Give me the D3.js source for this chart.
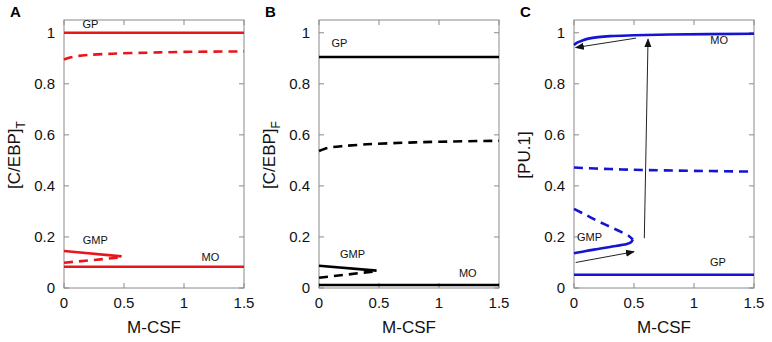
<!DOCTYPE html>
<html>
<head>
<meta charset="utf-8">
<script src="https://cdn.jsdelivr.net/npm/d3@7"></script>
<style>
  body { margin: 0; background: #fff; }
  svg { font-family: Arial, "Liberation Sans", sans-serif; }
  .tick_label { font-size: 15px; fill: #111; }
  .axis_title { font-size: 17px; fill: #111; }
  .branch_label { font-size: 11px; fill: #111; }
  .panel_letter { font-size: 15px; font-weight: bold; fill: #000; }
</style>
</head>
<body>
<svg id="main_chart" width="772" height="342"></svg>
<script>
// TICKS
const xTicks = [0, 0.5, 1, 1.5];
const yTicks = [0, 0.2, 0.4, 0.6, 0.8, 1];
const yTickLabels = ['0', '0.2', '0.4', '0.6', '0.8', '1'];
const xTickLabels = ['0', '0.5', '1', '1.5'];

// PANEL A: [C/EBP]T
const aGP = [[0, 1], [1.5, 1]];
const aUnstableHigh = [[0, 0.895], [0.05, 0.903], [0.1, 0.908], [0.2, 0.913], [0.4, 0.918], [0.7, 0.922], [1, 0.925], [1.5, 0.927]];
const aGMP = [[0, 0.145], [0.48, 0.124]];
const aUnstableLow = [[0, 0.099], [0.48, 0.12]];
const aMO = [[0, 0.083], [1.5, 0.083]];
const aLabels = [['GP', 0.22, 1.02], ['GMP', 0.26, 0.172], ['MO', 1.22, 0.105]];

// PANEL B: [C/EBP]F
const bGP = [[0, 0.905], [1.5, 0.905]];
const bUnstableHigh = [[0, 0.537], [0.05, 0.546], [0.1, 0.551], [0.2, 0.556], [0.4, 0.563], [0.7, 0.569], [1, 0.573], [1.5, 0.577]];
const bGMP = [[0, 0.087], [0.48, 0.068]];
const bUnstableLow = [[0, 0.04], [0.48, 0.066]];
const bMO = [[0, 0.012], [1.5, 0.012]];
const bLabels = [['GP', 0.17, 0.945], ['GMP', 0.28, 0.118], ['MO', 1.24, 0.042]];

// PANEL C: [PU.1]
const cMO = [[0, 0.952], [0.03, 0.962], [0.07, 0.97], [0.12, 0.977], [0.2, 0.983], [0.3, 0.987], [0.5, 0.99], [0.8, 0.993], [1.5, 0.996]];
const cUnstableMid = [[0, 0.472], [0.3, 0.466], [0.6, 0.462], [1, 0.459], [1.5, 0.456]];
const cUnstableLow = [[0, 0.31], [0.1, 0.286], [0.2, 0.262], [0.3, 0.24], [0.4, 0.218], [0.46, 0.203], [0.49, 0.19]];
const cGMP = [[0.49, 0.19], [0.475, 0.179], [0.44, 0.172], [0.3, 0.161], [0.2, 0.153], [0.1, 0.145], [0, 0.136]];
const cGP = [[0, 0.052], [1.5, 0.052]];
const cLabels = [['MO', 1.21, 0.955], ['GMP', 0.13, 0.183], ['GP', 1.2, 0.085]];
const cArrows = [
  [[0.517, 0.979], [0.014, 0.942]],
  [[0.586, 0.195], [0.617, 0.975]],
  [[0.014, 0.1], [0.5, 0.142]]
];

const panels = [
  { letter: 'A', left: 64, color: '#e8161b', title: '[C/EBP]', sub: 'T',
    solid: [aGP, aGMP, aMO], dashed: [aUnstableHigh, aUnstableLow], labels: aLabels, arrows: [] },
  { letter: 'B', left: 319, color: '#000000', title: '[C/EBP]', sub: 'F',
    solid: [bGP, bGMP, bMO], dashed: [bUnstableHigh, bUnstableLow], labels: bLabels, arrows: [] },
  { letter: 'C', left: 574, color: '#1414d2', title: '[PU.1]', sub: '',
    solid: [cMO, cGMP, cGP], dashed: [cUnstableMid, cUnstableLow], labels: cLabels, arrows: cArrows }
];

const svg = d3.select('#main_chart');

svg.append('defs').append('marker')
  .attr('id', 'arrow_head')
  .attr('viewBox', '0 0 10 10')
  .attr('refX', 9).attr('refY', 5)
  .attr('markerWidth', 9).attr('markerHeight', 9)
  .attr('markerUnits', 'userSpaceOnUse')
  .attr('orient', 'auto')
  .append('path')
  .attr('d', 'M0,1 L10,5 L0,9 Z')
  .attr('fill', '#111');

const plotW = 180, plotTop = 20, plotBottom = 288;

panels.forEach(p => {
  const xScale = d3.scaleLinear().domain([0, 1.5]).range([p.left, p.left + plotW]);
  const yScale = d3.scaleLinear().domain([0, 1.05]).range([plotBottom, plotTop]);
  const g = svg.append('g');

  // BOX
  g.append('rect')
    .attr('x', p.left).attr('y', plotTop)
    .attr('width', plotW).attr('height', plotBottom - plotTop)
    .attr('fill', 'none').attr('stroke', '#8a8a8a').attr('stroke-width', 1);

  // INWARD TICKS ON ALL FOUR SIDES
  xTicks.forEach(t => {
    const x = xScale(t);
    g.append('line').attr('x1', x).attr('x2', x).attr('y1', plotBottom).attr('y2', plotBottom - 5).attr('stroke', '#8a8a8a');
    g.append('line').attr('x1', x).attr('x2', x).attr('y1', plotTop).attr('y2', plotTop + 5).attr('stroke', '#8a8a8a');
  });
  yTicks.forEach(t => {
    const y = yScale(t);
    g.append('line').attr('x1', p.left).attr('x2', p.left + 5).attr('y1', y).attr('y2', y).attr('stroke', '#8a8a8a');
    g.append('line').attr('x1', p.left + plotW).attr('x2', p.left + plotW - 5).attr('y1', y).attr('y2', y).attr('stroke', '#8a8a8a');
  });

  // TICK LABELS
  g.selectAll('text.x_tick').data(xTicks).enter().append('text')
    .attr('class', 'tick_label')
    .attr('x', d => xScale(d)).attr('y', 308)
    .attr('text-anchor', 'middle')
    .text((d, i) => xTickLabels[i]);
  g.selectAll('text.y_tick').data(yTicks).enter().append('text')
    .attr('class', 'tick_label')
    .attr('x', p.left - 9).attr('y', d => yScale(d) + 5)
    .attr('text-anchor', 'end')
    .text((d, i) => yTickLabels[i]);

  // AXIS TITLES
  g.append('text').attr('class', 'axis_title')
    .attr('x', p.left + plotW / 2).attr('y', 333)
    .attr('text-anchor', 'middle')
    .text('M-CSF');
  const yt = g.append('text').attr('class', 'axis_title')
    .attr('text-anchor', 'middle')
    .attr('transform', `translate(${p.left - 44},155) rotate(-90)`);
  yt.append('tspan').text(p.title);
  if (p.sub) yt.append('tspan').attr('dy', 5).attr('font-size', '12px').text(p.sub);

  // PANEL LETTER
  svg.append('text').attr('class', 'panel_letter')
    .attr('x', p.left - 54).attr('y', 17)
    .text(p.letter);

  // BRANCHES
  const drawLine = d3.line().x(d => xScale(d[0])).y(d => yScale(d[1])).curve(d3.curveCatmullRom);
  p.solid.forEach(s => {
    g.append('path').attr('d', drawLine(s))
      .attr('fill', 'none').attr('stroke', p.color).attr('stroke-width', 2.6);
  });
  p.dashed.forEach(s => {
    g.append('path').attr('d', drawLine(s))
      .attr('fill', 'none').attr('stroke', p.color).attr('stroke-width', 2.6)
      .attr('stroke-dasharray', '9,6');
  });

  // BRANCH LABELS
  p.labels.forEach(l => {
    g.append('text').attr('class', 'branch_label')
      .attr('x', xScale(l[1])).attr('y', yScale(l[2]))
      .attr('text-anchor', 'middle')
      .text(l[0]);
  });

  // ARROWS
  p.arrows.forEach(a => {
    g.append('line')
      .attr('x1', xScale(a[0][0])).attr('y1', yScale(a[0][1]))
      .attr('x2', xScale(a[1][0])).attr('y2', yScale(a[1][1]))
      .attr('stroke', '#222').attr('stroke-width', 1)
      .attr('marker-end', 'url(#arrow_head)');
  });
});
</script>
</body>
</html>
